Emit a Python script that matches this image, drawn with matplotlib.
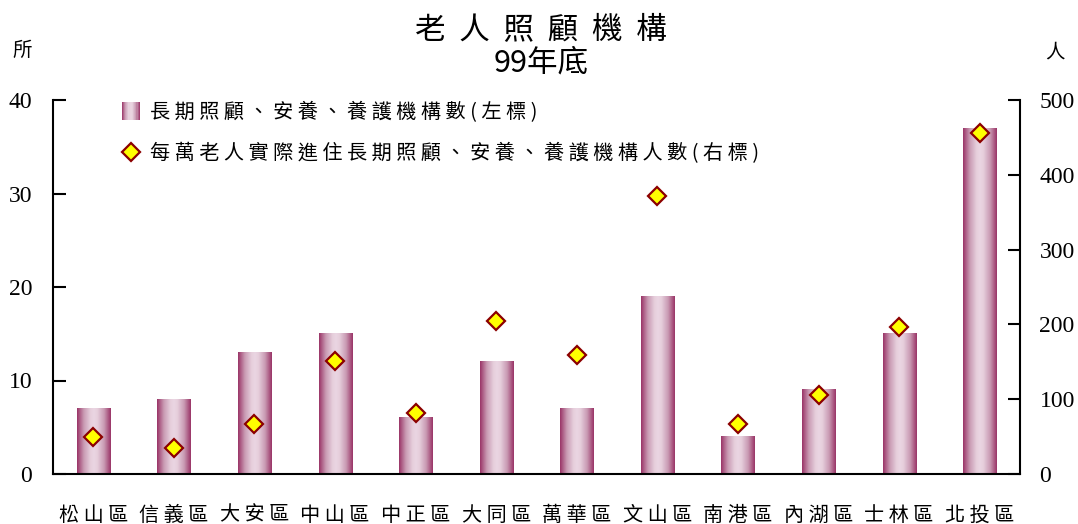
import numpy as np
import matplotlib
matplotlib.use('Agg')
import matplotlib.pyplot as plt
from matplotlib.colors import LinearSegmentedColormap
from matplotlib.legend_handler import HandlerBase
from matplotlib.patches import Rectangle
from matplotlib.lines import Line2D
from matplotlib.font_manager import FontProperties

districts = ['松山區', '信義區', '大安區', '中山區', '中正區', '大同區',
             '萬華區', '文山區', '南港區', '內湖區', '士林區', '北投區']
facilities = [7, 8, 13, 15, 6, 12, 7, 19, 4, 9, 15, 37]
residents_per_10k = [49, 35, 67, 151, 81, 204, 159, 371, 67, 105, 196, 456]

label_bar = '長期照顧、安養、養護機構數(左標)'
label_dot = '每萬老人實際進住長期照顧、安養、養護機構人數(右標)'

cjk = ['Noto Sans CJK TC', 'DejaVu Sans']
serif = 'Liberation Serif'

bar_cmap = LinearSegmentedColormap.from_list(
    'bar', [(0, '#993366'), (0.2, '#C99AB3'), (0.4, '#E6CFDC'),
            (0.5, '#EAD6E2'), (0.6, '#E6CFDC'), (0.8, '#C99AB3'),
            (1, '#993366')])


def spaced(s):
    return ' '.join(s)


class GradientSquare(HandlerBase):
    def create_artists(self, legend, orig_handle, xdescent, ydescent,
                       width, height, fontsize, trans):
        size = width
        x0 = -xdescent
        y0 = -ydescent + (height - size) / 2
        n = 16
        arts = []
        for i in range(n):
            arts.append(Rectangle((x0 + i * size / n, y0), size / n, size,
                                  facecolor=bar_cmap((i + 0.5) / n),
                                  edgecolor='none', transform=trans))
        return arts


fig = plt.figure(figsize=(10.78, 5.24), dpi=100)
ax = fig.add_axes([53 / 1078, 50 / 524, 967 / 1078, 374 / 524])
ax2 = ax.twinx()

x = np.arange(len(districts))
bars = ax.bar(x, facilities, width=0.41, color='none', zorder=2)
grad = np.linspace(0, 1, 256).reshape(1, -1)
for p in bars:
    x0, w, h = p.get_x(), p.get_width(), p.get_height()
    ax.imshow(grad, cmap=bar_cmap, extent=(x0, x0 + w, 0, h),
              aspect='auto', zorder=2, interpolation='bilinear')

ax2.plot(x, residents_per_10k, ls='none', marker='D', ms=9,
         mfc='#FFFF00', mec='#8B0000', mew=1.6, zorder=3)

ax.set_xlim(-0.5, len(districts) - 0.5)
ax.set_ylim(0, 40)
ax2.set_ylim(0, 500)
ax.set_yticks(range(0, 41, 10))
ax2.set_yticks(range(0, 501, 100))

ax.set_xticks(x, [spaced(d) for d in districts])
for lab in ax.get_xticklabels():
    lab.set_fontfamily(cjk)
    lab.set_fontsize(14.5)
ax.tick_params(axis='x', length=0, pad=22)

ax.tick_params(axis='y', direction='in', length=9, width=1.5, pad=15,
               labelsize=17)
ax2.tick_params(axis='y', direction='in', length=9, width=1.5, pad=14,
                labelsize=17)
for lab in ax.get_yticklabels() + ax2.get_yticklabels():
    lab.set_fontfamily(serif)

for a in (ax, ax2):
    a.spines['top'].set_visible(False)
    for s in a.spines.values():
        s.set_linewidth(1.5)
ax.spines['right'].set_visible(False)
ax2.spines['left'].set_visible(False)
ax2.spines['bottom'].set_visible(False)

handles = [Rectangle((0, 0), 1, 1),
           Line2D([], [], ls='none', marker='D', ms=9, mfc='#FFFF00',
                  mec='#8B0000', mew=1.6)]
ax2.legend(handles, [spaced(label_bar), spaced(label_dot)],
           loc='upper left', bbox_to_anchor=(0.071, 0.995), frameon=False,
           prop=FontProperties(family=cjk, size=14.5), handlelength=0.9,
           handletextpad=0.5, labelspacing=1.0, borderpad=0,
           borderaxespad=0, numpoints=1,
           handler_map={Rectangle: GradientSquare()})

fig.text(541 / 1078, 1 - 31 / 524, '老  人  照  顧  機  構', ha='center',
         va='center', fontsize=22, family=cjk)
fig.text(541 / 1078, 1 - 63 / 524, '99年底', ha='center', va='center',
         fontsize=22, family=cjk)
fig.text(22 / 1078, 1 - 50 / 524, '所', ha='center', va='center',
         fontsize=14, family=cjk)
fig.text(1055 / 1078, 1 - 52 / 524, '人', ha='center', va='center',
         fontsize=14, family=cjk)

fig.savefig('out.png', dpi=100)
